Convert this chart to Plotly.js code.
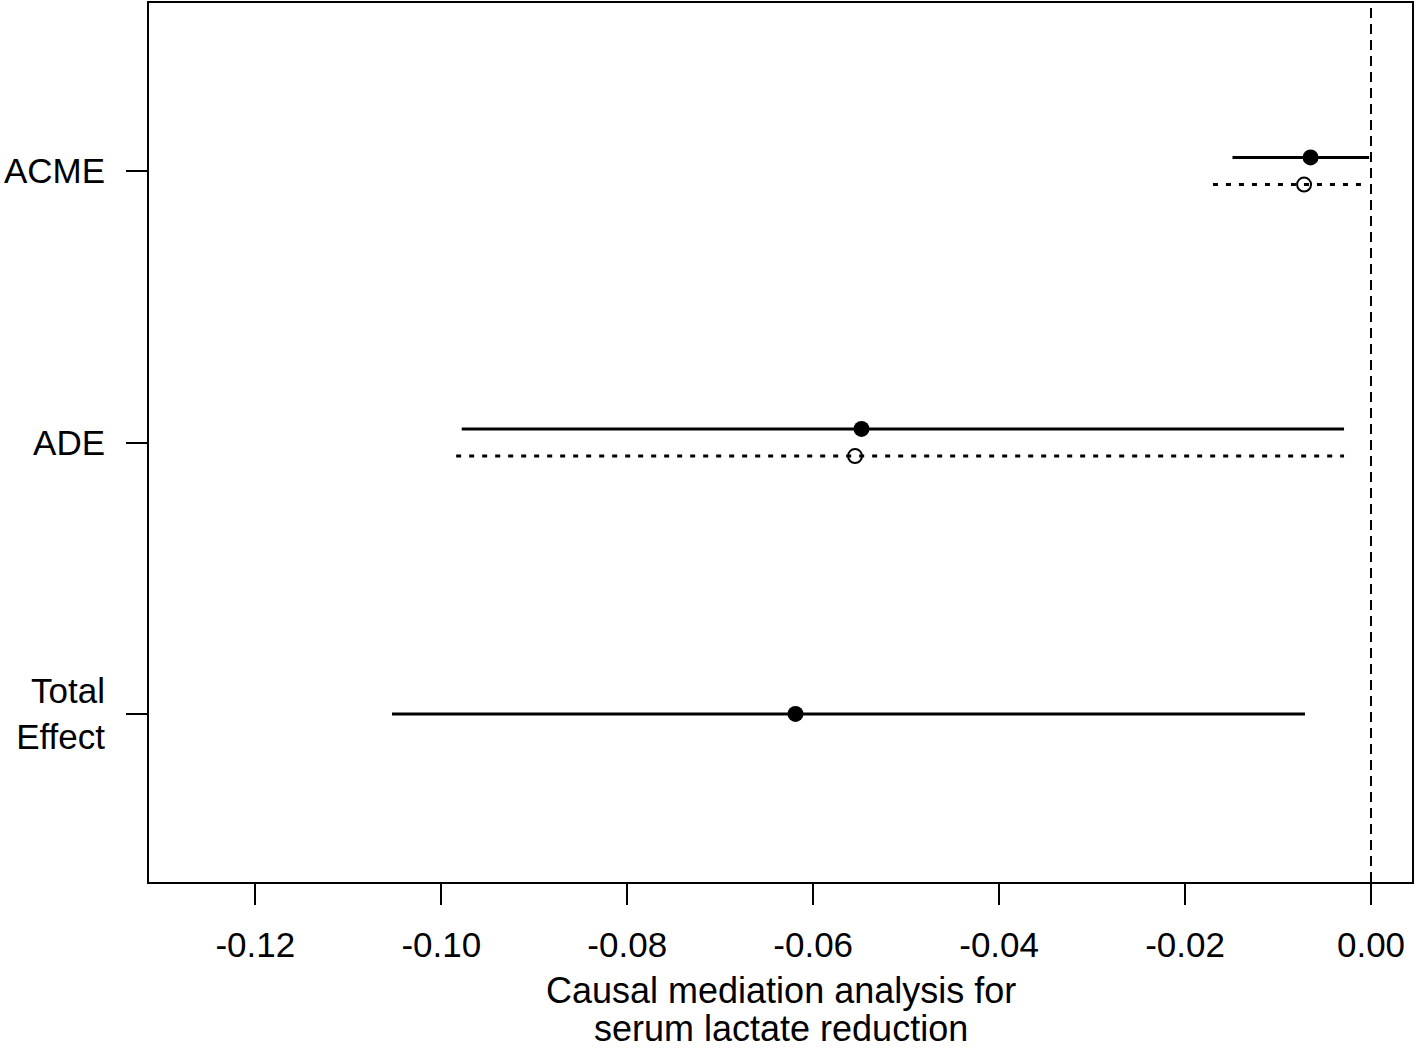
<!DOCTYPE html>
<html>
<head>
<meta charset="utf-8">
<script src="https://cdn.plot.ly/plotly-3.0.1.min.js"></script>
<style>html,body{margin:0;padding:0;background:#fff;}#chart{width:1418px;height:1050px;}</style>
</head>
<body>
<div id="chart"></div>
<script>
// Effects (y positions: Total=1, ADE=2, ACME=3)
var effects = ["Total<br>Effect", "ADE", "ACME"];
var effectPos = [1, 2, 3];

// Treated (solid line, filled point) estimates and 95% CI
var treatedEst   = [-0.0619, -0.0548, -0.0065];
var treatedLower = [-0.1053, -0.0978, -0.0149];
var treatedUpper = [-0.0071, -0.0029, -0.0002];

// Control (dotted line, open point) — only ADE and ACME
var controlEffects = [2, 3];
var controlEst   = [-0.0555, -0.0072];
var controlLower = [-0.0984, -0.0170];
var controlUpper = [-0.0029, -0.0009];

var xTicks = [-0.12, -0.10, -0.08, -0.06, -0.04, -0.02, 0.00];
var xTickText = ["-0.12", "-0.10", "-0.08", "-0.06", "-0.04", "-0.02", "0.00"];
var xTitleLines = ["Causal mediation analysis for", "serum lactate reduction"];

var offset = 0.05;
function treatedY(i){ return effectPos[i] === 1 ? 1 : effectPos[i] + offset; }

var tx = [], ty = [];
for (var i = 0; i < effectPos.length; i++) {
  var y = treatedY(i);
  tx.push(treatedLower[i], treatedUpper[i], null);
  ty.push(y, y, null);
}
var cx = [], cy = [];
for (var j = 0; j < controlEffects.length; j++) {
  var yc = controlEffects[j] - offset;
  cx.push(controlLower[j], controlUpper[j], null);
  cy.push(yc, yc, null);
}

var font = {family: "Liberation Sans, Arial, sans-serif", size: 35, color: "#000"};
var titleFont = {family: "Liberation Sans, Arial, sans-serif", size: 36, color: "#000"};

var traces = [
  {x: tx, y: ty, mode: "lines", line: {color: "#000", width: 3}, hoverinfo: "skip", showlegend: false},
  {x: cx, y: cy, mode: "lines", line: {color: "#000", width: 3, dash: "5px,8px"}, hoverinfo: "skip", showlegend: false},
  {x: treatedEst, y: effectPos.map(function(p, i){ return treatedY(i); }), mode: "markers",
   marker: {symbol: "circle", size: 16, color: "#000"}, showlegend: false},
  {x: controlEst, y: controlEffects.map(function(p){ return p - offset; }), mode: "markers",
   marker: {symbol: "circle-open", size: 14, color: "#000", line: {width: 2, color: "#000"}}, showlegend: false}
];

var titleShifts = [-108, -146];
var annotations = xTitleLines.map(function(t, k){
  return {
    text: t, xref: "paper", yref: "paper", x: 0.5, y: 0,
    xanchor: "center", yanchor: "middle", yshift: titleShifts[k],
    showarrow: false, font: titleFont, align: "center", borderpad: 0
  };
});

var layout = {
  width: 1418, height: 1050,
  margin: {l: 149, r: 6, t: 3, b: 168},
  paper_bgcolor: "#fff", plot_bgcolor: "#fff",
  font: font,
  showlegend: false,
  xaxis: {
    range: [-0.13144, 0.00441],
    tickvals: xTicks, ticktext: xTickText,
    ticks: "outside", ticklen: 21, tickwidth: 2, tickcolor: "#000",
    showline: true, linewidth: 2, linecolor: "#000", mirror: true,
    showgrid: false, zeroline: false,
    tickfont: font, ticklabelstandoff: 10
  },
  yaxis: {
    range: [0.381, 3.619],
    tickvals: effectPos, ticktext: effects,
    ticks: "outside", ticklen: 21, tickwidth: 2, tickcolor: "#000",
    showline: true, linewidth: 2, linecolor: "#000", mirror: true,
    showgrid: false, zeroline: false,
    tickfont: font, ticklabelstandoff: 14
  },
  annotations: annotations,
  shapes: [{
    type: "line", xref: "x", yref: "paper", x0: 0, x1: 0, y0: 0, y1: 1,
    line: {color: "#000", width: 2, dash: "10px,6px"}
  }]
};

Plotly.newPlot("chart", traces, layout, {displayModeBar: false, staticPlot: true});
</script>
</body>
</html>
